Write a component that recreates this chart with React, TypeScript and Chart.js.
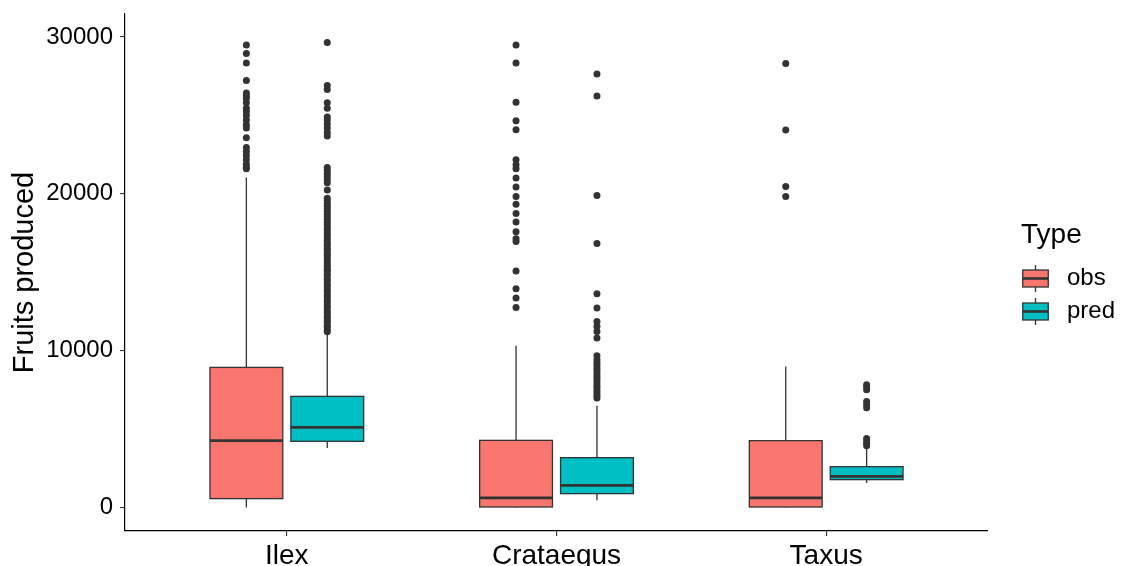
import React, { useEffect, useRef } from "react";
import { Chart, registerables } from "chart.js";

Chart.register(...registerables);

const categories = ["Ilex", "Crataegus", "Taxus"];
const groups = ["obs", "pred"];
const groupColors = ["#F8766D", "#00BFC4"];
const yTicks = [0, 10000, 20000, 30000];

// box statistics per category (Ilex, Crataegus, Taxus)
const obsMin = [0, 0, 0];
const obsQ1 = [573, 40, 40];
const obsMedian = [4268, 618, 618];
const obsQ3 = [8936, 4287, 4268];
const obsMax = [21040, 10320, 9000];

const predMin = [3800, 465, 1571];
const predQ1 = [4225, 892, 1783];
const predMedian = [5115, 1420, 1994];
const predQ3 = [7090, 3185, 2611];
const predMax = [11150, 6497, 3760];

// outliers
const ilexObsOut = [29480, 28950, 28330, 27220, 26420, 26250, 26090, 25800, 25460, 25240, 24990, 24710, 24400, 24190, 23570, 22950, 22690, 22440, 22170, 21890, 21700, 21590];
const ilexPredOut = [
  29640, 26900, 26650, 25800, 25450, 24900, 24700, 24450, 24200, 23900, 23680,
  21680, 21500, 21300, 21100, 20900, 20700, 20250,
  19720, 19560, 19370, 19210, 19040, 18880, 18690, 18530, 18360, 18190, 18020, 17840, 17700, 17510, 17370, 17190,
  17030, 16850, 16700, 16520, 16390, 16190, 16050, 15870, 15710, 15540, 15390, 15190, 15060, 14880, 14730, 14550,
  14410, 14220, 14080, 13890, 13750, 13570, 13420, 13240, 13100, 12920, 12780, 12590, 12450, 12270, 12130, 11950,
  11810, 11630, 11490, 11310, 11210,
];
const crataegusObsOut = [29490, 28330, 25840, 24650, 24080, 22170, 21850, 21590, 21000, 20430, 19830, 19340, 18750, 18200, 17580, 17130, 16960, 15080, 13950, 13360, 12760];
const crataegusPredOut = [27640, 26240, 19890, 16830, 13630, 12720, 11870, 11550, 11230, 10810, 9680, 9430, 9240, 9060, 8870, 8710, 8520, 8340, 8190, 8000, 7820, 7660, 7470, 7310, 7140, 6990];
const taxusObsOut = [28300, 24060, 20470, 19830];
const taxusPredOut = [7830, 7680, 7520, 6760, 6560, 6360, 4400, 4250, 4100, 3950];

const obsOutliers = [ilexObsOut, crataegusObsOut, taxusObsOut];
const predOutliers = [ilexPredOut, crataegusPredOut, taxusPredOut];

const DODGE = 0.15;
const BOX_W = 0.27;
const FONT = "'Liberation Sans', Arial, sans-serif";
const LINE = "#333333";

const stats = [
  { min: obsMin, q1: obsQ1, med: obsMedian, q3: obsQ3, max: obsMax },
  { min: predMin, q1: predQ1, med: predMedian, q3: predQ3, max: predMax },
];

function pointsFor(outs: number[][], g: number) {
  const pts: { x: number; y: number }[] = [];
  outs.forEach((arr, i) => {
    const x = i + 1 + (g === 0 ? -DODGE : DODGE);
    arr.forEach((y) => pts.push({ x, y }));
  });
  return pts;
}

const boxPlugin = {
  id: "boxes",
  beforeDatasetsDraw(chart: any) {
    const ctx = chart.ctx;
    const xs = chart.scales.x;
    const ys = chart.scales.y;
    const half = (xs.getPixelForValue(BOX_W) - xs.getPixelForValue(0)) / 2;
    ctx.save();
    stats.forEach((s, g) => {
      categories.forEach((_, i) => {
        const cx = xs.getPixelForValue(i + 1 + (g === 0 ? -DODGE : DODGE));
        const yMin = ys.getPixelForValue(s.min[i]);
        const yQ1 = ys.getPixelForValue(s.q1[i]);
        const yMed = ys.getPixelForValue(s.med[i]);
        const yQ3 = ys.getPixelForValue(s.q3[i]);
        const yMax = ys.getPixelForValue(s.max[i]);
        ctx.strokeStyle = LINE;
        ctx.lineWidth = 1.3;
        ctx.beginPath();
        ctx.moveTo(cx, yMax);
        ctx.lineTo(cx, yQ3);
        ctx.moveTo(cx, yQ1);
        ctx.lineTo(cx, yMin);
        ctx.stroke();
        ctx.fillStyle = groupColors[g];
        ctx.fillRect(cx - half, yQ3, 2 * half, yQ1 - yQ3);
        ctx.strokeRect(cx - half, yQ3, 2 * half, yQ1 - yQ3);
        ctx.lineWidth = 2.8;
        ctx.beginPath();
        ctx.moveTo(cx - half, yMed);
        ctx.lineTo(cx + half, yMed);
        ctx.stroke();
      });
    });
    ctx.restore();
  },
  afterDraw(chart: any) {
    const ctx = chart.ctx;
    const r = chart.chartArea.right;
    ctx.save();
    ctx.fillStyle = "#000";
    ctx.font = `28px ${FONT}`;
    ctx.textBaseline = "alphabetic";
    ctx.textAlign = "left";
    ctx.fillText("Type", r + 33, 243);
    groups.forEach((name, g) => {
      const top = 261.5 + g * 33;
      const H = 34;
      const left = r + 30.5;
      const W = 34;
      const cx = left + W / 2;
      ctx.strokeStyle = LINE;
      ctx.lineWidth = 1.3;
      ctx.beginPath();
      ctx.moveTo(cx, top + 0.1 * H);
      ctx.lineTo(cx, top + 0.25 * H);
      ctx.moveTo(cx, top + 0.75 * H);
      ctx.lineTo(cx, top + 0.9 * H);
      ctx.stroke();
      ctx.fillStyle = groupColors[g];
      const bx = left + 0.125 * W;
      const bw = 0.75 * W;
      ctx.fillRect(bx, top + 0.25 * H, bw, 0.5 * H);
      ctx.strokeRect(bx, top + 0.25 * H, bw, 0.5 * H);
      ctx.lineWidth = 2.6;
      ctx.beginPath();
      ctx.moveTo(bx, top + 0.5 * H);
      ctx.lineTo(bx + bw, top + 0.5 * H);
      ctx.stroke();
      ctx.fillStyle = "#000";
      ctx.font = `24px ${FONT}`;
      ctx.textBaseline = "middle";
      ctx.fillText(name, r + 79, top + H / 2);
    });
    ctx.restore();
  },
};

export default function App() {
  const ref = useRef<HTMLCanvasElement>(null);
  useEffect(() => {
    document.body.style.margin = "0";
    const canvas = ref.current!;
    Chart.defaults.font.family = FONT;
    const chart = new Chart(canvas, {
      type: "scatter",
      data: {
        datasets: [
          {
            label: groups[0],
            data: pointsFor(obsOutliers, 0),
            backgroundColor: LINE,
            borderWidth: 0,
            pointRadius: 3.5,
            pointHoverRadius: 3.5,
          },
          {
            label: groups[1],
            data: pointsFor(predOutliers, 1),
            backgroundColor: LINE,
            borderWidth: 0,
            pointRadius: 3.5,
            pointHoverRadius: 3.5,
          },
        ],
      },
      options: {
        animation: false,
        responsive: false,
        devicePixelRatio: 1,
        layout: { padding: { left: 0, top: 14, right: 135, bottom: 0 } },
        plugins: { legend: { display: false }, tooltip: { enabled: false } },
        scales: {
          x: {
            type: "linear",
            min: 0.4,
            max: 3.6,
            afterBuildTicks: (s: any) => {
              s.ticks = categories.map((_, i) => ({ value: i + 1 }));
            },
            afterFit: (s: any) => {
              s.height = 35;
              s.paddingLeft = 0;
              s.paddingRight = 0;
            },
            ticks: {
              callback: (v: any) => categories[Math.round(Number(v)) - 1] ?? "",
              color: "#000",
              font: { size: 28 },
              padding: 3,
              autoSkip: false,
              maxRotation: 0,
            },
            grid: { drawOnChartArea: false, drawTicks: true, tickLength: 5, color: LINE, lineWidth: 1.1 },
            border: { display: true, color: "#000", width: 1.2 },
          },
          y: {
            type: "linear",
            min: -1490,
            max: 31460,
            afterBuildTicks: (s: any) => {
              s.ticks = yTicks.map((v) => ({ value: v }));
            },
            afterFit: (s: any) => {
              s.width = 125;
              s.paddingTop = 0;
              s.paddingBottom = 0;
            },
            ticks: {
              callback: (v: any) => String(v),
              color: "#000",
              font: { size: 24 },
              padding: 7,
            },
            title: {
              display: true,
              text: "Fruits produced",
              color: "#000",
              font: { size: 29 },
              padding: { top: 8, bottom: 0 },
            },
            grid: { drawOnChartArea: false, drawTicks: true, tickLength: 5, color: LINE, lineWidth: 1.1 },
            border: { display: true, color: "#000", width: 1.2 },
          },
        },
      },
      plugins: [boxPlugin],
    });
    return () => chart.destroy();
  }, []);
  return (
    <div style={{ width: 1123, height: 566, background: "#fff" }}>
      <canvas ref={ref} width={1123} height={566} />
    </div>
  );
}
